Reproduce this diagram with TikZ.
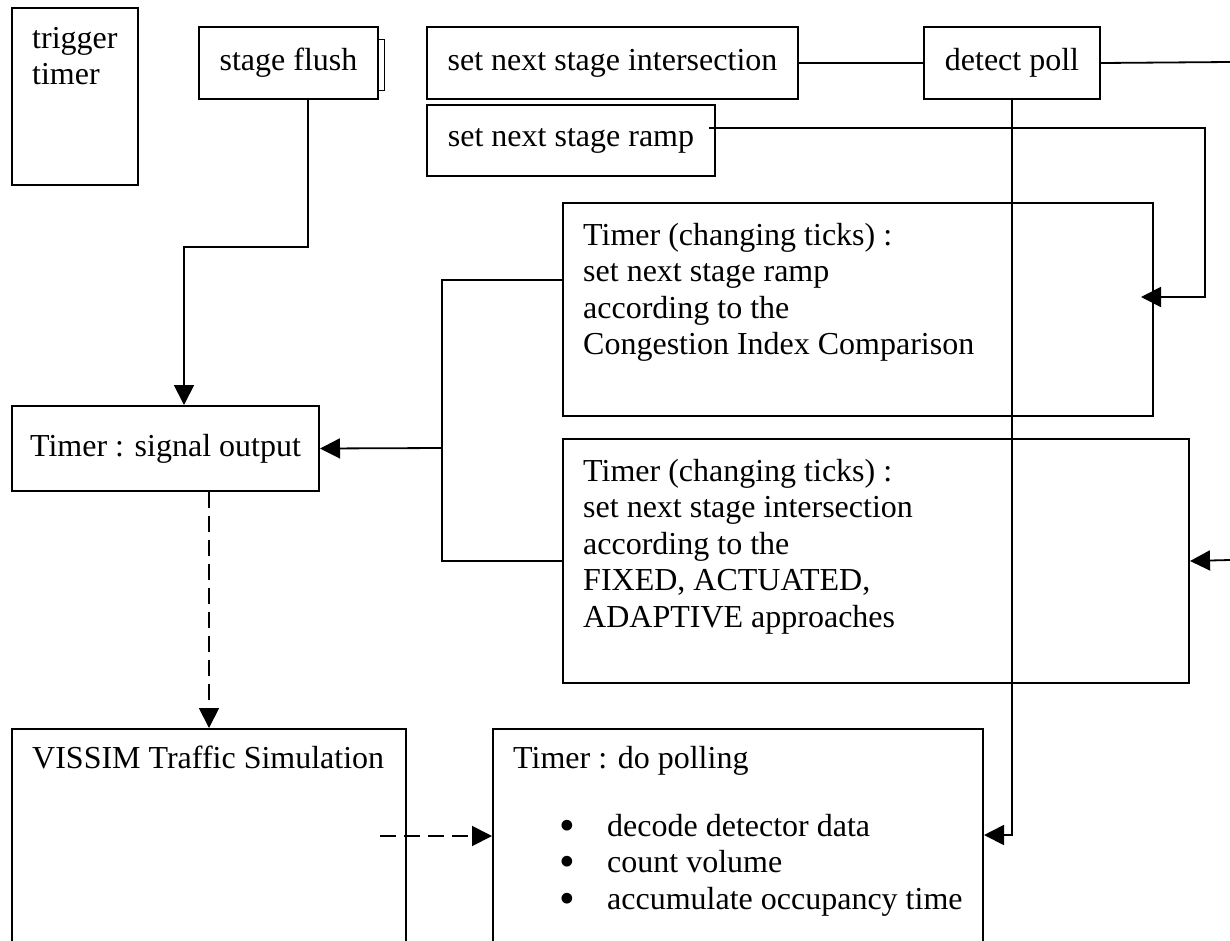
\documentclass[tikz,border=0pt]{standalone}
\usepackage{fontspec}
\setmainfont{Liberation Serif}
\usetikzlibrary{arrows.meta}
% left-aligned stack of lines whose baseline is that of the first line
\newcommand\leftlines[1]{\vtop{\halign{##\hfil\cr#1\crcr}}}
% list bullet with its hanging indent
\newcommand\listdot{\makebox[48pt][l]{\smash{\raisebox{-4pt}{\scalebox{1.4}{\textbullet}}}}}

\begin{document}
\begin{tikzpicture}[x=1pt,y=-1pt,
  font=\fontsize{32pt}{36.5pt}\selectfont,
  box/.style={draw, line width=2pt, inner sep=0pt, anchor=north west},
  txt/.style={inner sep=0pt, anchor=base west},
  link/.style={line width=1.8pt},
  tip/.style={link, -{Triangle[length=20pt,width=20pt]}},
  dashlink/.style={tip, dash pattern=on 16pt off 8pt}]

\useasboundingbox (0,0) rectangle (1230,940);
\clip (0,0) rectangle (1230,940);

% top row
\node[box, minimum width=126pt, minimum height=177pt] (trig) at (11,7) {};
\node[txt] (trigT) at (32,48) {\leftlines{trigger\cr timer}};

\node[box, minimum width=179pt, minimum height=72pt] (flush) at (198,26) {stage flush};
\draw[line width=1pt] ([yshift=-13pt]flush.north east) -| ([xshift=5pt,yshift=10pt]flush.south east) -- ([yshift=10pt]flush.south east);

\node[box, minimum width=371pt, minimum height=72pt] (interset) at (426,26) {set next stage intersection};
\node[box, minimum width=288pt, minimum height=71pt] (rampset) at (426,104) {set next stage ramp};
\node[box, minimum width=176pt, minimum height=72pt] (detect) at (923,26) {detect poll};

% stage-setting timers
\node[box, minimum width=590pt, minimum height=213pt] (ramp) at (562,202) {};
\node[txt] (rampT) at (583,245) {\leftlines{Timer (changing ticks) :\cr
  set next stage ramp\cr according to the\cr Congestion Index Comparison}};

\node[box, minimum width=626pt, minimum height=244pt] (inter) at (562,438) {};
\node[txt] (interT) at (583,481) {\leftlines{Timer (changing ticks) :\cr
  set next stage intersection\cr according to the\cr FIXED, ACTUATED,\cr ADAPTIVE approaches}};

\node[box, minimum width=307pt, minimum height=85pt] (signal) at (11,405) {Timer : signal output};

% bottom row
\node[box, minimum width=394pt, minimum height=260pt] (vissim) at (11,728) {};
\node[txt] (vissimT) at (32,768) {VISSIM Traffic Simulation};

\node[box, minimum width=490pt, minimum height=260pt] (poll) at (492,728) {};
\node[txt] (pollT) at (513,768) {Timer : do polling};
\node[txt] (pollL) at (559,836) {\leftlines{\listdot decode detector data\cr
  \listdot count volume\cr
  \listdot accumulate occupancy time}};

% connectors
\coordinate (topR) at (1230,62);
\coordinate (midR) at (1230,560);
\coordinate (jn) at (442,448);

\draw[link] (interset.east) -- (detect.west);
\draw[link] (detect.east) -- (topR);
\draw[tip] (detect.south) |- ([yshift=-107pt]poll.north east);
\draw[tip, shorten >=-13pt] ([xshift=-7pt,yshift=-24pt]rampset.north east) -- ++(496,0) |- ([yshift=-95pt]ramp.north east);
\draw[tip] (midR) -- (inter.east);
\draw[link] ([yshift=-78pt]ramp.north west) -| (jn) |- (inter.west);
\draw[tip] (jn) -- (signal.east);
\draw[tip] ([xshift=19.5pt]flush.south) -- ++(0,147) -| ([xshift=18.5pt]signal.north);
\draw[dashlink] (vissim.north |- signal.south) -- (vissim.north);
\draw[dashlink] ([xshift=-27pt,yshift=-108pt]vissim.north east) -- ([yshift=-108pt]poll.north west);
\end{tikzpicture}
\end{document}
